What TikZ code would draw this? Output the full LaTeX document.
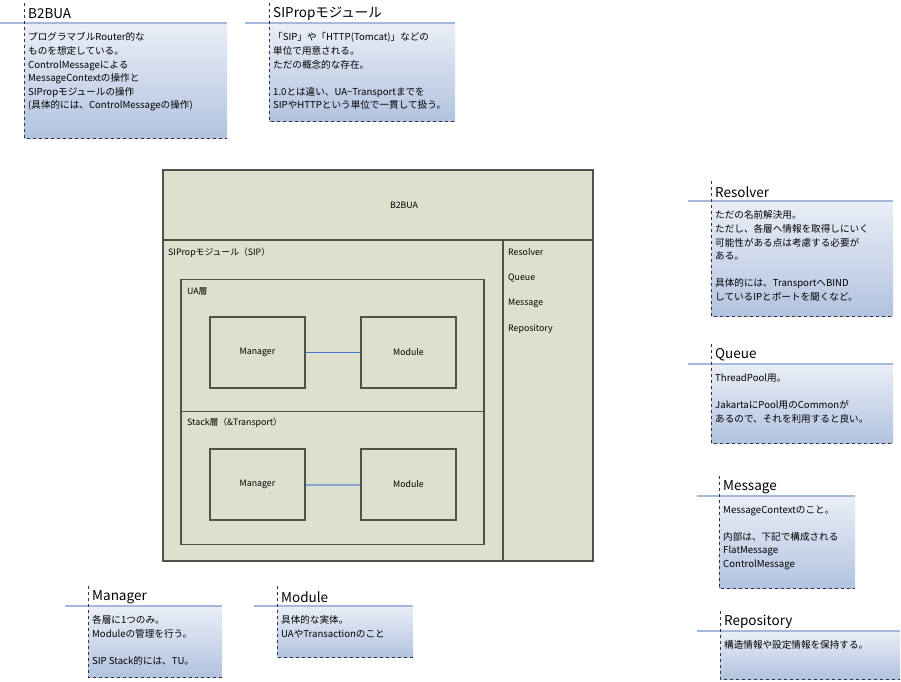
\documentclass[tikz,border=0pt]{standalone}
\usepackage{fontspec}
\setmainfont{Noto Sans CJK JP}
\usetikzlibrary{
positioning,%
calc
}
\definecolor{boxfill}{RGB}{221,224,204}
\definecolor{boxline}{RGB}{80,82,74}
\definecolor{notetop}{RGB}{234,238,247}
\definecolor{notebot}{RGB}{178,195,224}
\definecolor{noteline}{RGB}{165,185,218}
\definecolor{linkblue}{RGB}{70,115,205}
\definecolor{linkpale}{RGB}{135,165,205}
\tikzset{
    frame/.style={draw=boxline, fill=boxfill, line width=1.2pt},
    part/.style={draw=boxline, line width=1.2pt, minimum width=95, minimum height=71,
        font=\fontsize{8.8}{10}\selectfont},
    boxtext/.style={anchor=west, inner sep=0pt, font=\fontsize{8.8}{10}\selectfont},
    memoline/.style={draw=noteline, line width=2.2pt},
    memodash/.style={draw=black!80, dashed, line width=0.6pt},
    memotitle/.style={anchor=west, inner sep=0pt, font=\fontsize{13.5}{16}\selectfont},
    memobody/.style={anchor=north west, inner sep=0pt, align=left,
        font=\fontsize{9.6}{13.6}\selectfont}
}
% #1 name, #2 x, #3 top, #4 width, #5 height, #6 line to the left, #7 title, #8 text
\newcommand{\memo}[8]{%
    \shade[top color=notetop, bottom color=notebot] (#2,#3) rectangle ++(#4,#5);
    \draw[memoline] ({#2-#6},#3) -- ++({#4+#6},0);
    \draw[memodash] (#2,{#3-20}) -- ++(0,{20+#5}) -- ++(#4,0);
    \node[memotitle] (#1) at ({#2+4},{#3-9}) {#7};
    \node[memobody] (#1-text) at ({#2+4},{#3+9.5}) {#8};
}

\begin{document}
\begin{tikzpicture}[x=1pt, y=-1pt]
    \useasboundingbox (0,0) rectangle (901,681);
    % notes
    \memo{nb2bua}{24}{23}{203}{115}{24}{B2BUA}{プログラマブルRouter的な\\ものを想定している。\\ControlMessageによる\\MessageContextの操作と\\SIPropモジュールの操作\\(具体的には、ControlMessageの操作)}
    \memo{nsiprop}{269}{23}{186}{98}{24}{SIPropモジュール}{「SIP」や「HTTP(Tomcat)」などの\\単位で用意される。\\ただの概念的な存在。\\ \mbox{}\\1.0とは違い、UA\textasciitilde Transportまでを\\SIPやHTTPという単位で一貫して扱う。}
    \memo{nresolver}{711}{201}{182}{115}{23}{Resolver}{ただの名前解決用。\\ただし、各層へ情報を取得しにいく\\可能性がある点は考慮する必要が\\ある。\\ \mbox{}\\具体的には、TransportへBIND\\しているIPとポートを聞くなど。}
    \memo{nqueue}{711}{364}{182}{79}{23}{Queue}{ThreadPool用。\\ \mbox{}\\JakartaにPool用のCommonが\\あるので、それを利用すると良い。}
    \memo{nmessage}{719}{496}{136}{92}{22}{Message}{MessageContextのこと。\\ \mbox{}\\内部は、下記で構成される\\FlatMessage\\ControlMessage}
    \memo{nrepo}{720}{631}{180}{48}{23}{Repository}{構造情報や設定情報を保持する。}
    \memo{nmanager}{88}{606}{134}{71}{23}{Manager}{各層に1つのみ。\\Moduleの管理を行う。\\ \mbox{}\\SIP Stack的には、TU。}
    \memo{nmodule}{277}{606}{136}{51}{23}{Module}{具体的な実体。\\UAやTransactionのこと}

    % B2BUA frame
    \node[frame, minimum width=430, minimum height=391] (b2bua) at (378,365.5) {};
    \draw[boxline, line width=1.2pt] (163,240) -- (593,240);
    \draw[boxline, line width=1.2pt] (503,240) -- (503,561);
    \node[boxtext, anchor=center] (title) at (404,205) {B2BUA};
    \node[boxtext] (siprop) at (168,252.5) {SIPropモジュール（SIP）};
    \node[boxtext] (resolver) at (508,252.5) {Resolver};
    \node[boxtext] (queue) at (508,278) {Queue};
    \node[boxtext] (message) at (508,303.5) {Message};
    \node[boxtext] (repo) at (508,329) {Repository};

    % layers
    \node[part, minimum width=303, minimum height=132.5] (ua) at (332.5,345.5) {};
    \node[part, minimum width=303, minimum height=132.5] (stack) at (332.5,478) {};
    \node[boxtext] (ualabel) at (187,291) {UA層};
    \node[boxtext] (stacklabel) at (187,423) {Stack層（\&Transport）};

    \node[part] (uamgr) at (257.5,352.5) {Manager};
    \node[part] (uamod) at (408.5,352.5) {Module};
    \node[part] (stmgr) at (257.5,484.5) {Manager};
    \node[part] (stmod) at (408.5,484.5) {Module};
    \draw[linkblue, line width=0.9pt] (uamgr) -- (uamod);
    \draw[linkpale, line width=2pt] (stmgr) -- (stmod);
\end{tikzpicture}
\end{document}
